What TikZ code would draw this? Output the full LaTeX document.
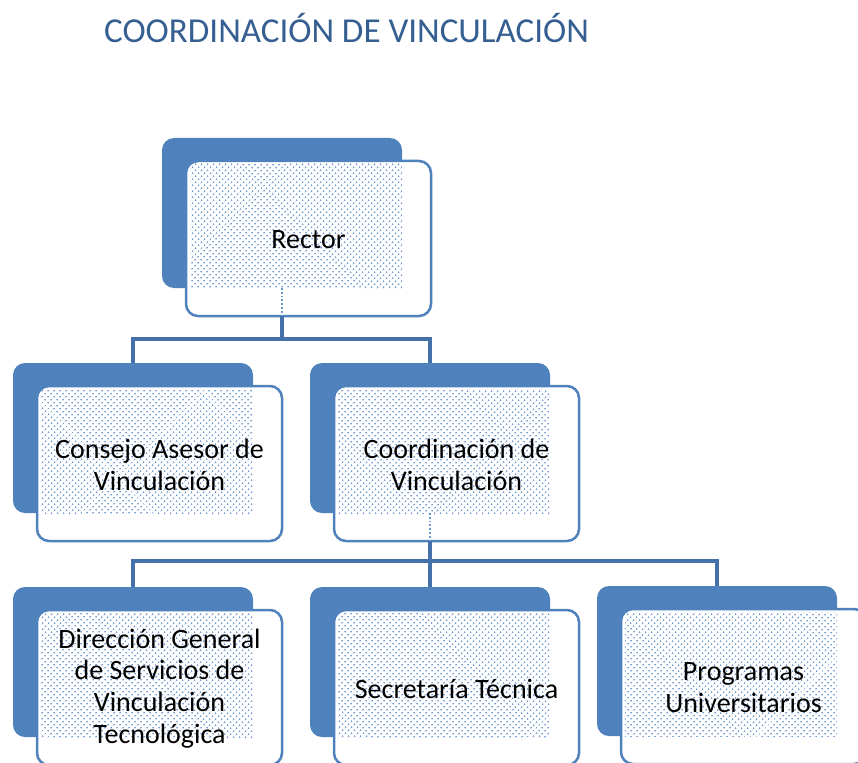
\documentclass[tikz,border=0pt]{standalone}
\usepackage{fontspec}
\setmainfont{Carlito}
\usetikzlibrary{patterns.meta}
\definecolor{acc}{HTML}{4F81BD}
\definecolor{conn}{HTML}{4571AB}
\definecolor{dotc}{HTML}{6F97D0}
\definecolor{titlec}{HTML}{365F91}
\tikzset{
  backbox/.style={fill=acc, draw=none, rounded corners=12pt, minimum width=240pt, minimum height=150pt, inner sep=0pt, outer sep=0pt, anchor=north west},
  frontbox/.style={draw=acc, line width=2.5pt, fill=white, rounded corners=12pt, minimum width=245pt, minimum height=155pt, inner sep=0pt, outer sep=0pt, anchor=north west},
  dotarea/.style={pattern={Dots[distance=4pt,radius=0.95pt,angle=45]}, pattern color=dotc},
  conline/.style={draw=conn, line width=3.5pt},
  dotline/.style={draw=dotc, line width=1.8pt, dotted},
  lbl/.style={font=\fontsize{28}{31.8}\selectfont, align=center, text=black, inner sep=0pt},
}
\newcommand\orgunit[4]{%
  \node[backbox] (#1b) at (#2,#3) {};
  \node[frontbox] (#1) at (#2+24,#3+23) {};
  \path[dotarea] ([xshift=4pt,yshift=-3pt]#1.north west) rectangle (#1b.south east);
  \node[lbl] (#1t) at ([yshift=-1pt]#1.center) {#4};
}
\begin{document}
\begin{tikzpicture}[x=1pt,y=-1pt]
  \useasboundingbox (0,0) rectangle (858,762);
  \clip (0,0) rectangle (858,762);
  \node[font=\fontsize{35}{40}\selectfont, text=titlec, anchor=west, inner sep=0pt] (title) at (104,28) {COORDINACIÓN DE VINCULACIÓN};

  \orgunit{rector}{162}{138}{Rector}
  \orgunit{consejo}{13}{363}{Consejo Asesor de\\Vinculación}
  \orgunit{coord}{310}{363}{Coordinación de\\Vinculación}
  \orgunit{dir}{13}{587}{Dirección General\\de Servicios de\\Vinculación\\Tecnológica}
  \orgunit{sec}{310}{587}{Secretaría Técnica}
  \orgunit{prog}{597}{586}{Programas\\Universitarios}

  % level 1 -> 2
  \draw[dotline] (rectorb.south) -- (rectorb.south |- rector.south);
  \draw[conline] (rectorb.south |- rector.south) |- (consejob.north |- 0,339) -- (consejob.north);
  \draw[conline] (rectorb.south |- 0,339) -| (coordb.north);

  % level 2 -> 3
  \draw[dotline] (coordb.south) -- (coordb.south |- coord.south);
  \draw[conline] (coordb.south |- coord.south) -- (secb.north);
  \draw[conline] (coordb.south |- 0,561) -| (dirb.north);
  \draw[conline] (coordb.south |- 0,561) -| (progb.north);
\end{tikzpicture}
\end{document}
